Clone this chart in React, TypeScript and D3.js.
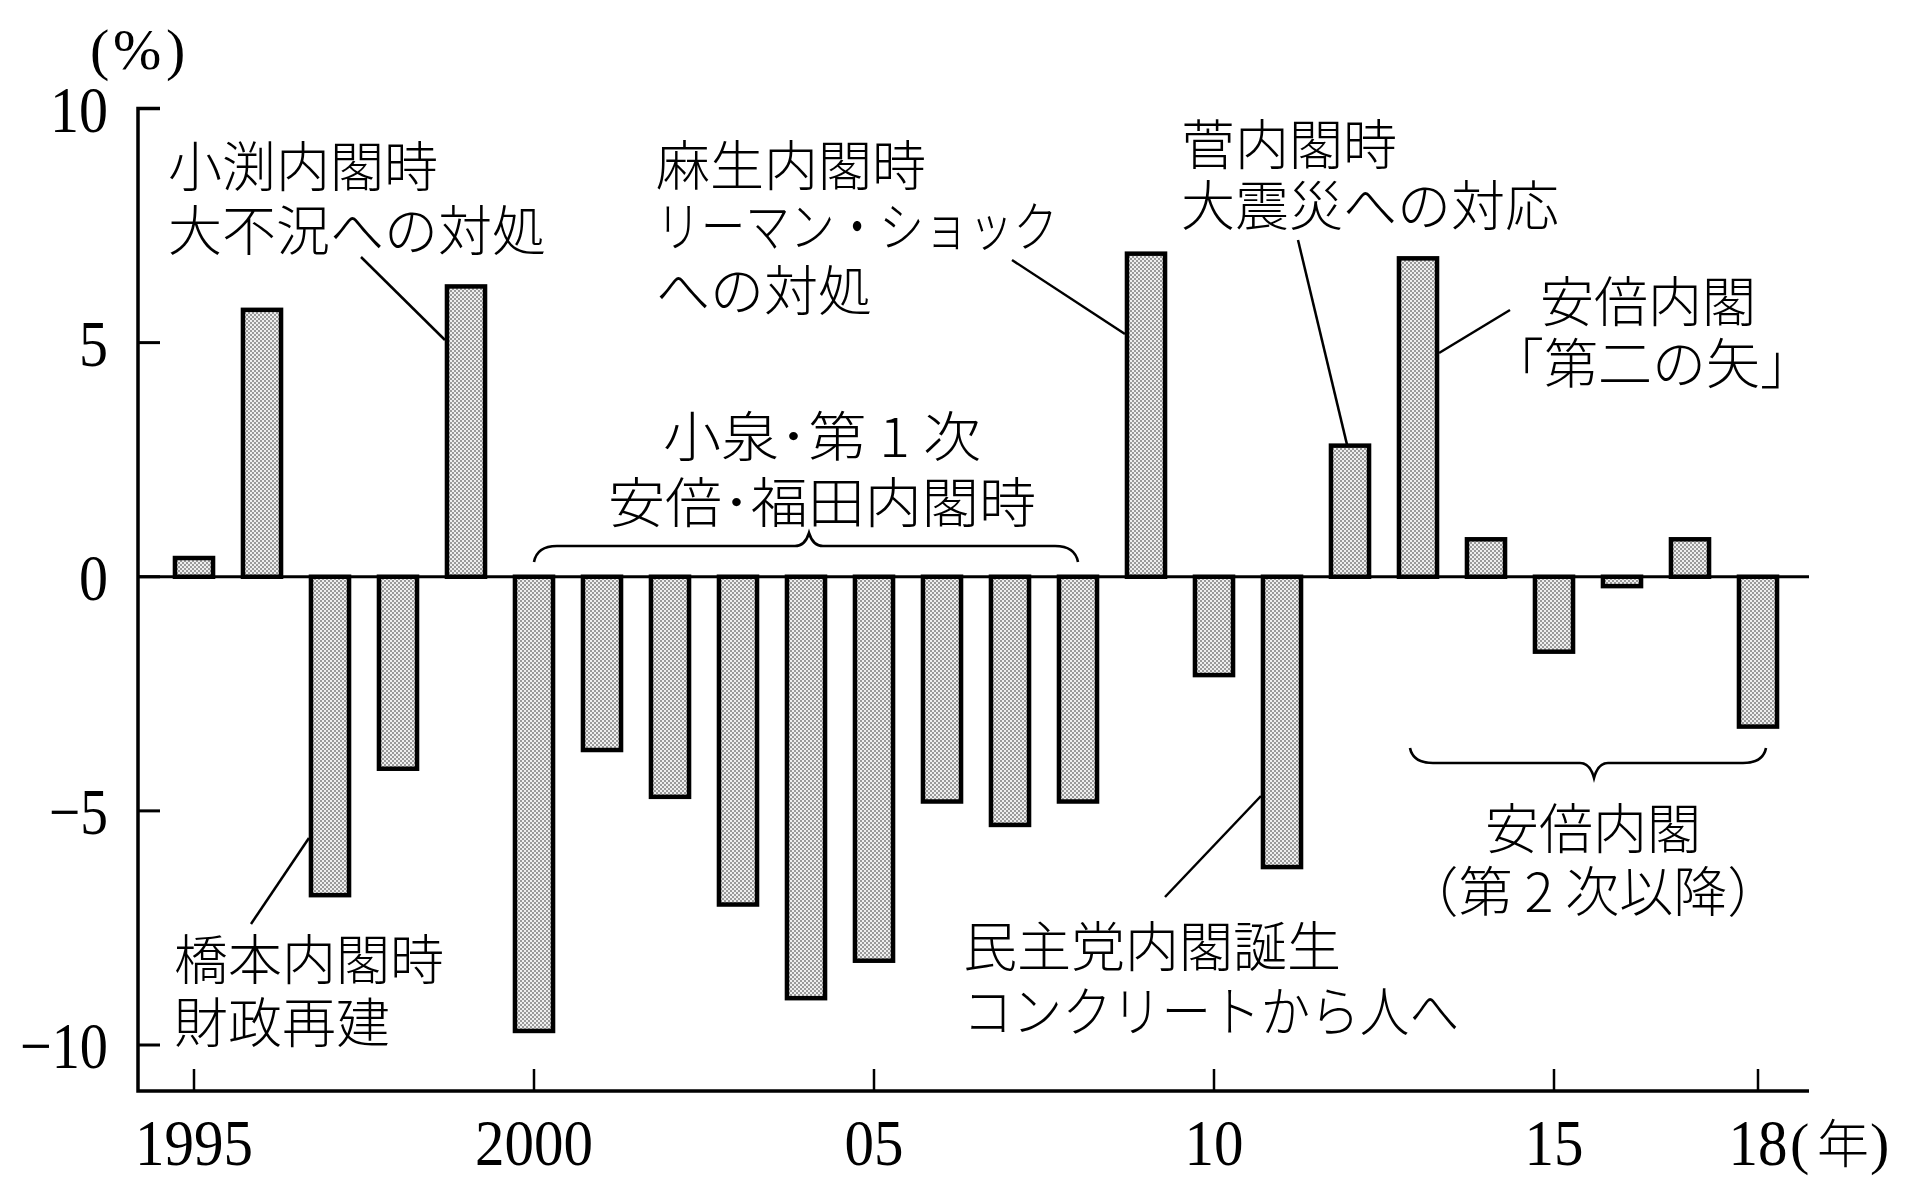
import React, { useEffect } from 'react';
import * as d3 from 'd3';

// ---------- data ----------
const years = [1995, 1996, 1997, 1998, 1999, 2000, 2001, 2002, 2003, 2004, 2005, 2006,
  2007, 2008, 2009, 2010, 2011, 2012, 2013, 2014, 2015, 2016, 2017, 2018];
const growth = [0.4, 5.7, -6.8, -4.1, 6.2, -9.7, -3.7, -4.7, -7.0, -9.0, -8.2, -4.8,
  -5.3, -4.8, 6.9, -2.1, -6.2, 2.8, 6.8, 0.8, -1.6, -0.2, 0.8, -3.2];
const yTickValues = [10, 5, 0, -5, -10];
const yTickLabels = ['10', '5', '0', '-5', '-10'];
const xTickYears = [1995, 2000, 2005, 2010, 2015, 2018];
const xTickLabels = ['1995', '2000', '05', '10', '15', '18'];
const yUnit = '%';
const xUnit = '年';

const noteObuchi = ['小渕内閣時', '大不況への対処'];
const noteHashimoto = ['橋本内閣時', '財政再建'];
const noteAso = ['麻生内閣時', 'リーマン・ショック', 'への対処'];
const noteKan = ['菅内閣時', '大震災への対応'];
const noteAbeArrow = ['安倍内閣', '「第二の矢」'];
const noteKoizumi = ['小泉･第 1 次', '安倍･福田内閣時'];
const noteAbeLater = ['安倍内閣', '（第 2 次以降）'];
const noteMinshu = ['民主党内閣誕生', 'コンクリートから人へ'];

// ---------- layout ----------
const W = 1906;
const H = 1194;
const AXIS_X = 138;
const AXIS_BOTTOM = 1091;
const AXIS_RIGHT = 1809;
const JP = "'Noto Sans CJK JP', sans-serif";
const NUM = "'Liberation Serif', 'DejaVu Serif', serif";
const JP_SIZE = 54;

const x = d3.scaleBand<number>().domain(years).range([160, 1792]).paddingInner(0.44).paddingOuter(0.22);
const cx = (yr: number) => (x(yr) as number) + x.bandwidth() / 2;
const y = d3.scaleLinear().domain([-10, 10]).range([1045, 108.5]);
const left = (yr: number) => (x(yr) as number) - 2;
const right = (yr: number) => (x(yr) as number) + x.bandwidth() + 2;

type Block = { lines: string[]; x: number; ys: number[]; anchor: 'start' | 'middle'; lens?: (number | undefined)[] };
const blocks: Block[] = [
  { lines: noteObuchi, x: 168, ys: [163, 227], anchor: 'start' },
  { lines: noteHashimoto, x: 174, ys: [956, 1019], anchor: 'start' },
  { lines: noteAso, x: 656, ys: [162, 223, 287], anchor: 'start', lens: [undefined, 402, undefined] },
  { lines: noteKan, x: 1181, ys: [141, 202], anchor: 'start' },
  { lines: [noteAbeArrow[0]], x: 1540, ys: [298], anchor: 'start' },
  { lines: [noteAbeArrow[1]], x: 1490, ys: [360], anchor: 'start' },
  { lines: noteKoizumi, x: 822, ys: [433, 499], anchor: 'middle', lens: [318, 428] },
  { lines: noteAbeLater, x: 1593, ys: [825, 888], anchor: 'middle' },
  { lines: noteMinshu, x: 963, ys: [943, 1008], anchor: 'start', lens: [undefined, 496] },
];

const leaders: [number, number, number, number][] = [
  [361, 257, left(1999), 340],
  [251, 924, left(1997), 838],
  [1012, 260, left(2009), 334],
  [1298, 240, 1347, y(2.8) - 1],
  [1510, 310, right(2013), 353],
  [1165, 897, left(2011), 796],
];

function braceUp(xl: number, xr: number, xm: number, yb: number, yEnd: number, yTip: number) {
  const p = d3.path();
  p.moveTo(xl, yEnd);
  p.quadraticCurveTo(xl + 3, yb, xl + 23, yb);
  p.lineTo(xm - 14, yb);
  p.quadraticCurveTo(xm - 4, yb, xm, yTip);
  p.quadraticCurveTo(xm + 4, yb, xm + 14, yb);
  p.lineTo(xr - 23, yb);
  p.quadraticCurveTo(xr - 3, yb, xr, yEnd);
  return p.toString();
}

export default function App() {
  useEffect(() => {
    document.body.style.margin = '0';
    document.body.style.overflow = 'hidden';
  }, []);

  const y0 = y(0);
  const b1l = cx(2000);
  const b1r = cx(2008);
  const b2l = cx(2013) - 8;
  const b2r = cx(2018) + 8;

  return (
    <svg width={W} height={H} viewBox={`0 0 ${W} ${H}`}
      style={{ position: 'absolute', left: 0, top: 0, display: 'block', background: '#fff' }}>
      <defs>
        <pattern id="dots" width="4" height="4" patternUnits="userSpaceOnUse">
          <rect width="4" height="4" fill="#efefef" />
          <rect x="0" y="0" width="2" height="2" fill="#9a9a9a" />
          <rect x="2" y="2" width="2" height="2" fill="#9a9a9a" />
        </pattern>
      </defs>
      <rect width={W} height={H} fill="#fff" />

      {/* bars */}
      {years.map((yr, i) => {
        const v = growth[i];
        const top = Math.min(y(v), y0);
        const h = Math.abs(y(v) - y0);
        return (
          <rect key={yr} x={x(yr)} y={top} width={x.bandwidth()} height={h}
            fill="url(#dots)" stroke="#000" strokeWidth={4.5} />
        );
      })}

      {/* zero line */}
      <line x1={AXIS_X} x2={AXIS_RIGHT} y1={y0} y2={y0} stroke="#000" strokeWidth={3} />

      {/* axes */}
      <path d={`M${AXIS_X + 22},${y(10)} L${AXIS_X},${y(10)} L${AXIS_X},${AXIS_BOTTOM} L${AXIS_RIGHT},${AXIS_BOTTOM}`}
        fill="none" stroke="#000" strokeWidth={3.5} />
      {yTickValues.map((v, i) => (
        <g key={v}>
          <line x1={AXIS_X} x2={AXIS_X + 22} y1={y(v)} y2={y(v)} stroke="#000" strokeWidth={3} />
          <text x={108} y={y(v) + 23} textAnchor="end" fontFamily={NUM} fontSize={66}
            textLength={yTickLabels[i].replace('-', '').length * 29 + (v < 0 ? 30 : 0)}
            lengthAdjust="spacingAndGlyphs">
            {yTickLabels[i].replace('-', '\u2212')}
          </text>
        </g>
      ))}
      {xTickYears.map((yr, i) => (
        <g key={yr}>
          <line x1={cx(yr)} x2={cx(yr)} y1={AXIS_BOTTOM - 22} y2={AXIS_BOTTOM} stroke="#000" strokeWidth={2.5} />
          <text x={cx(yr)} y={1165} textAnchor="middle" fontFamily={NUM} fontSize={66}
            textLength={xTickLabels[i].length * 29.5} lengthAdjust="spacingAndGlyphs">
            {xTickLabels[i]}
          </text>
        </g>
      ))}

      {/* unit labels */}
      <text y={69} fontFamily={NUM} fontSize={58}>
        <tspan x={90}>(</tspan>
        <tspan x={113}>{yUnit}</tspan>
        <tspan x={166}>)</tspan>
      </text>
      <text y={1163} fontFamily={NUM} fontSize={58}>
        <tspan x={1790}>(</tspan>
        <tspan x={1817} fontFamily={JP} fontSize={52} fontWeight={300}>{xUnit}</tspan>
        <tspan x={1870}>)</tspan>
      </text>

      {/* braces */}
      <path d={braceUp(b1l, b1r, 809, 546, 562, 533)} fill="none" stroke="#000" strokeWidth={2.6} />
      <path d={braceUp(b2l, b2r, (b2l + b2r) / 2 + 6, 763, 748, 778)} fill="none" stroke="#000" strokeWidth={2.6} />

      {/* leader lines */}
      {leaders.map((l, i) => (
        <line key={i} x1={l[0]} y1={l[1]} x2={l[2]} y2={l[3]} stroke="#000" strokeWidth={2.5} />
      ))}

      {/* annotation texts */}
      {blocks.map((b, bi) => (
        <g key={bi}>
          {b.lines.map((t, li) => {
            const len = b.lens ? b.lens[li] : undefined;
            return (
              <text key={li} x={b.x} y={b.ys[li]} textAnchor={b.anchor} dominantBaseline="central"
                fontFamily={JP} fontSize={JP_SIZE} fontWeight={300} fill="#000"
                {...(len ? { textLength: len, lengthAdjust: 'spacingAndGlyphs' } : {})}>
                {t}
              </text>
            );
          })}
        </g>
      ))}
    </svg>
  );
}
